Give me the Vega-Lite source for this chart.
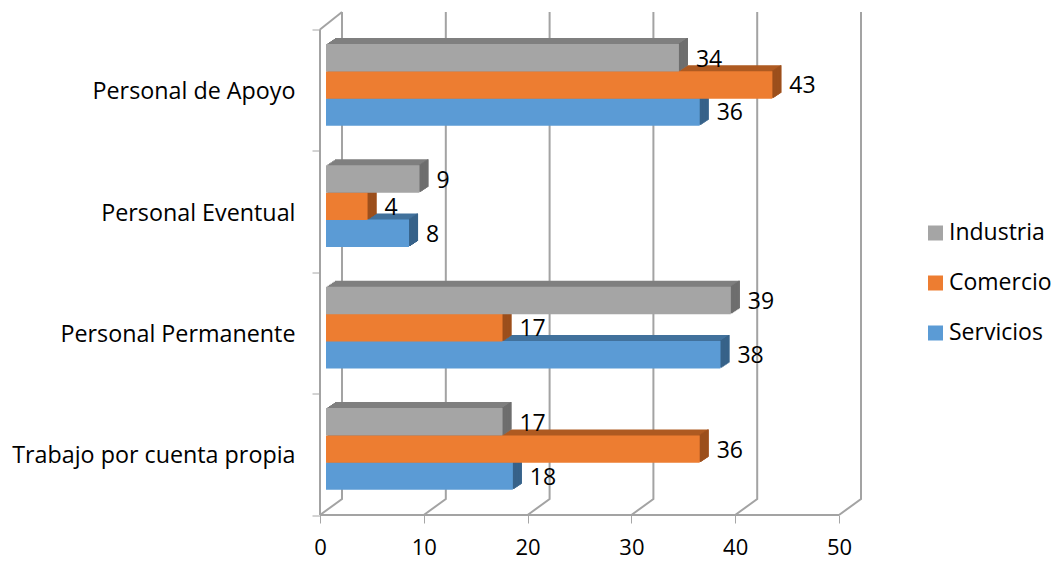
{"$schema":"https://vega.github.io/schema/vega-lite/v6.json","width":519,"height":485.5,"autosize":"none","padding":{"left":320,"top":29.5,"right":217,"bottom":47},"background":"white","config":{"view":{"stroke":null},"font":"Open Sans"},
"resolve":{"scale":{"y":"independent"}},
"layer":[
{"data":{"values":[{"g":"f","x":0,"y":0},{"g":"f","x":50,"y":0},{"g":"l1","x":0,"y":0},{"g":"l1","x":0,"y":4},{"g":"l2","x":0,"y":4},{"g":"l2","x":2.12,"y":4.144},
{"g":"0","x":0,"y":0},{"g":"0","x":2.12,"y":0.132},{"g":"0","x":2.12,"y":4.144},
{"g":"10","x":10,"y":0},{"g":"10","x":12.12,"y":0.132},{"g":"10","x":12.12,"y":4.144},
{"g":"20","x":20,"y":0},{"g":"20","x":22.12,"y":0.132},{"g":"20","x":22.12,"y":4.144},
{"g":"30","x":30,"y":0},{"g":"30","x":32.12,"y":0.132},{"g":"30","x":32.12,"y":4.144},
{"g":"40","x":40,"y":0},{"g":"40","x":42.12,"y":0.132},{"g":"40","x":42.12,"y":4.144},
{"g":"50","x":50,"y":0},{"g":"50","x":52.12,"y":0.132},{"g":"50","x":52.12,"y":4.144}]},
"mark":{"type":"line","color":"#a3a3a3","strokeWidth":2,"clip":false},
"encoding":{"detail":{"field":"g"},"x":{"field":"x","type":"quantitative","sort":null,"scale":{"domain":[0,50],"nice":false},"axis":{"values":[0,10,20,30,40,50],"grid":false,"domain":false,"title":null,"tickColor":"#a6a6a6","tickSize":8,"tickWidth":1,"labelFontSize":22,"labelColor":"#000000","labelBaseline":"middle","labelPadding":24,"labelFlush":false,"labelFont":"Open Sans"}},"y":{"field":"y","type":"quantitative","scale":{"domain":[0,4],"nice":false},"axis":null}}},
{"data":{"values":[
{"c":"Personal de Apoyo","s":"Industria","v":34},{"c":"Personal de Apoyo","s":"Comercio","v":43},{"c":"Personal de Apoyo","s":"Servicios","v":36},
{"c":"Personal Eventual","s":"Industria","v":9},{"c":"Personal Eventual","s":"Comercio","v":4},{"c":"Personal Eventual","s":"Servicios","v":8},
{"c":"Personal Permanente","s":"Industria","v":39},{"c":"Personal Permanente","s":"Comercio","v":17},{"c":"Personal Permanente","s":"Servicios","v":38},
{"c":"Trabajo por cuenta propia","s":"Industria","v":17},{"c":"Trabajo por cuenta propia","s":"Comercio","v":36},{"c":"Trabajo por cuenta propia","s":"Servicios","v":18}]},
"encoding":{"x":{"field":"v","type":"quantitative","scale":{"domain":[0,50],"nice":false},"axis":{"values":[0,10,20,30,40,50],"grid":false,"domain":false,"title":null,"tickColor":"#a6a6a6","tickSize":8,"tickWidth":1,"labelFontSize":22,"labelColor":"#000000","labelBaseline":"middle","labelPadding":24,"labelFlush":false,"labelFont":"Open Sans"}},
"y":{"field":"c","type":"nominal","sort":null,"scale":{"domain":["Personal de Apoyo","Personal Eventual","Personal Permanente","Trabajo por cuenta propia"],"paddingInner":0,"paddingOuter":0},"axis":{"title":null,"domain":false,"tickBand":"extent","tickColor":"#a6a6a6","tickSize":8,"tickWidth":1,"labelFontSize":23.3,"labelColor":"#000000","labelPadding":17,"labelOffset":1.5,"labelFont":"Open Sans","labelLimit":400}}},
"layer":[
{"transform":[{"filter":"datum.s==='Servicios'"}],"layer":[
{"mark":{"type":"bar","height":27.4,"color":"#41719c","xOffset":7.5,"x2Offset":7.5,"yOffset":20.75}},{"mark":{"type":"bar","height":27.4,"color":"#41719c","xOffset":9,"x2Offset":9,"yOffset":19.75}},{"mark":{"type":"bar","height":27.4,"color":"#41719c","xOffset":10.5,"x2Offset":10.5,"yOffset":18.75}},{"mark":{"type":"bar","height":27.4,"color":"#41719c","xOffset":12,"x2Offset":12,"yOffset":17.75}},{"mark":{"type":"bar","height":27.4,"color":"#41719c","xOffset":13.5,"x2Offset":13.5,"yOffset":16.75}},{"mark":{"type":"bar","height":27.4,"color":"#41719c","xOffset":15,"x2Offset":15,"yOffset":15.75}},
{"mark":{"type":"bar","height":27.4,"color":"#376289","xOffset":6,"x2Offset":8,"yOffset":20.75},"encoding":{"x2":{"field":"v"}}},{"mark":{"type":"bar","height":27.4,"color":"#376289","xOffset":7.5,"x2Offset":9.5,"yOffset":19.75},"encoding":{"x2":{"field":"v"}}},{"mark":{"type":"bar","height":27.4,"color":"#376289","xOffset":9,"x2Offset":11,"yOffset":18.75},"encoding":{"x2":{"field":"v"}}},{"mark":{"type":"bar","height":27.4,"color":"#376289","xOffset":10.5,"x2Offset":12.5,"yOffset":17.75},"encoding":{"x2":{"field":"v"}}},{"mark":{"type":"bar","height":27.4,"color":"#376289","xOffset":12,"x2Offset":14,"yOffset":16.75},"encoding":{"x2":{"field":"v"}}},{"mark":{"type":"bar","height":27.4,"color":"#376289","xOffset":13.5,"x2Offset":15,"yOffset":15.75},"encoding":{"x2":{"field":"v"}}},
{"mark":{"type":"bar","height":27.4,"color":"#5b9bd5","xOffset":6,"x2Offset":6,"yOffset":21.75}}]},
{"transform":[{"filter":"datum.s==='Comercio'"}],"layer":[
{"mark":{"type":"bar","height":27.4,"color":"#ae5a21","xOffset":7.5,"x2Offset":7.5,"yOffset":-6.15}},{"mark":{"type":"bar","height":27.4,"color":"#ae5a21","xOffset":9,"x2Offset":9,"yOffset":-7.15}},{"mark":{"type":"bar","height":27.4,"color":"#ae5a21","xOffset":10.5,"x2Offset":10.5,"yOffset":-8.15}},{"mark":{"type":"bar","height":27.4,"color":"#ae5a21","xOffset":12,"x2Offset":12,"yOffset":-9.15}},{"mark":{"type":"bar","height":27.4,"color":"#ae5a21","xOffset":13.5,"x2Offset":13.5,"yOffset":-10.15}},{"mark":{"type":"bar","height":27.4,"color":"#ae5a21","xOffset":15,"x2Offset":15,"yOffset":-11.15}},
{"mark":{"type":"bar","height":27.4,"color":"#9c4f1c","xOffset":6,"x2Offset":8,"yOffset":-6.15},"encoding":{"x2":{"field":"v"}}},{"mark":{"type":"bar","height":27.4,"color":"#9c4f1c","xOffset":7.5,"x2Offset":9.5,"yOffset":-7.15},"encoding":{"x2":{"field":"v"}}},{"mark":{"type":"bar","height":27.4,"color":"#9c4f1c","xOffset":9,"x2Offset":11,"yOffset":-8.15},"encoding":{"x2":{"field":"v"}}},{"mark":{"type":"bar","height":27.4,"color":"#9c4f1c","xOffset":10.5,"x2Offset":12.5,"yOffset":-9.15},"encoding":{"x2":{"field":"v"}}},{"mark":{"type":"bar","height":27.4,"color":"#9c4f1c","xOffset":12,"x2Offset":14,"yOffset":-10.15},"encoding":{"x2":{"field":"v"}}},{"mark":{"type":"bar","height":27.4,"color":"#9c4f1c","xOffset":13.5,"x2Offset":15,"yOffset":-11.15},"encoding":{"x2":{"field":"v"}}},
{"mark":{"type":"bar","height":27.4,"color":"#ed7d31","xOffset":6,"x2Offset":6,"yOffset":-5.15}}]},
{"transform":[{"filter":"datum.s==='Industria'"}],"layer":[
{"mark":{"type":"bar","height":27.4,"color":"#7f7f7f","xOffset":7.5,"x2Offset":7.5,"yOffset":-33.5}},{"mark":{"type":"bar","height":27.4,"color":"#7f7f7f","xOffset":9,"x2Offset":9,"yOffset":-34.5}},{"mark":{"type":"bar","height":27.4,"color":"#7f7f7f","xOffset":10.5,"x2Offset":10.5,"yOffset":-35.5}},{"mark":{"type":"bar","height":27.4,"color":"#7f7f7f","xOffset":12,"x2Offset":12,"yOffset":-36.5}},{"mark":{"type":"bar","height":27.4,"color":"#7f7f7f","xOffset":13.5,"x2Offset":13.5,"yOffset":-37.5}},{"mark":{"type":"bar","height":27.4,"color":"#7f7f7f","xOffset":15,"x2Offset":15,"yOffset":-38.5}},
{"mark":{"type":"bar","height":27.4,"color":"#6e6e6e","xOffset":6,"x2Offset":8,"yOffset":-33.5},"encoding":{"x2":{"field":"v"}}},{"mark":{"type":"bar","height":27.4,"color":"#6e6e6e","xOffset":7.5,"x2Offset":9.5,"yOffset":-34.5},"encoding":{"x2":{"field":"v"}}},{"mark":{"type":"bar","height":27.4,"color":"#6e6e6e","xOffset":9,"x2Offset":11,"yOffset":-35.5},"encoding":{"x2":{"field":"v"}}},{"mark":{"type":"bar","height":27.4,"color":"#6e6e6e","xOffset":10.5,"x2Offset":12.5,"yOffset":-36.5},"encoding":{"x2":{"field":"v"}}},{"mark":{"type":"bar","height":27.4,"color":"#6e6e6e","xOffset":12,"x2Offset":14,"yOffset":-37.5},"encoding":{"x2":{"field":"v"}}},{"mark":{"type":"bar","height":27.4,"color":"#6e6e6e","xOffset":13.5,"x2Offset":15,"yOffset":-38.5},"encoding":{"x2":{"field":"v"}}},
{"mark":{"type":"bar","height":27.4,"xOffset":6,"x2Offset":6,"yOffset":-32.5},"encoding":{"color":{"field":"s","type":"nominal","sort":null,"scale":{"domain":["Industria","Comercio","Servicios"],"range":["#a5a5a5","#ed7d31","#5b9bd5"]},"legend":{"title":null,"orient":"none","legendX":604,"legendY":192,"padding":0,"symbolType":"square","symbolSize":225,"labelFontSize":23,"labelColor":"#000000","labelFont":"Open Sans","rowPadding":26,"labelOffset":2,"symbolStrokeWidth":0,"labelLimit":200}}}}]},
{"transform":[{"filter":"datum.s==='Industria'"}],"mark":{"type":"text","align":"left","baseline":"middle","fontSize":23,"font":"Open Sans","color":"#000000","xOffset":23,"yOffset":-30.5},"encoding":{"text":{"field":"v","type":"quantitative"}}},
{"transform":[{"filter":"datum.s==='Comercio'"}],"mark":{"type":"text","align":"left","baseline":"middle","fontSize":23,"font":"Open Sans","color":"#000000","xOffset":23,"yOffset":-3.7},"encoding":{"text":{"field":"v","type":"quantitative"}}},
{"transform":[{"filter":"datum.s==='Servicios'"}],"mark":{"type":"text","align":"left","baseline":"middle","fontSize":23,"font":"Open Sans","color":"#000000","xOffset":23,"yOffset":23.3},"encoding":{"text":{"field":"v","type":"quantitative"}}}
]}]}
